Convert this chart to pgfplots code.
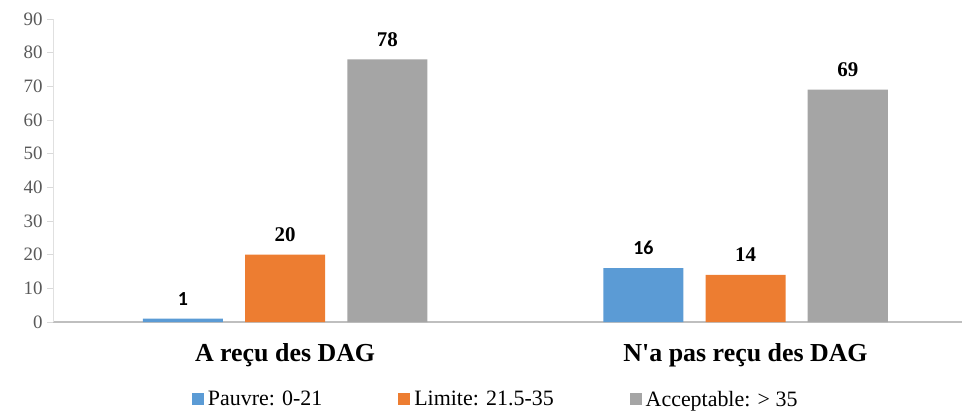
\documentclass[border=0pt]{standalone}
\usepackage{fontspec}
\setmainfont{LiberationSerif}[Extension=.ttf, UprightFont=*-Regular, BoldFont=*-Bold]
\newfontfamily\calibri{Carlito}
\usepackage{pgfplots}
\pgfplotsset{compat=1.18}

\definecolor{cblue}{HTML}{5B9BD5}
\definecolor{corange}{HTML}{ED7D31}
\definecolor{cgrey}{HTML}{A5A5A5}
\definecolor{ticktext}{HTML}{595959}

\begin{document}
\begin{tikzpicture}
\begin{axis}[
    scale only axis,
    width=909bp, height=303bp,
    ybar,
    bar width=0.174,
    xmin=-0.504, xmax=1.47,
    ymin=0, ymax=90,
    ytick={0,10,...,90},
    xtick={0,1},
    xticklabels={A reçu des DAG, N\textquotesingle a pas reçu des DAG},
    axis x line*=bottom,
    axis y line*=left,
    axis line style={-},
    x axis line style={draw=black!25, line width=1.5bp},
    y axis line style={draw=black!12, line width=0.8bp},
    tick align=outside,
    major tick length=6bp,
    xtick style={draw=none},
    ytick style={draw=black!15, line width=0.8bp},
    /pgf/number format/assume math mode=true,
    yticklabel style={font=\rmfamily\fontsize{19}{19}\selectfont, text=ticktext, xshift=-1bp},
    xticklabel style={font=\rmfamily\fontsize{26}{26}\selectfont\bfseries, yshift=-12bp},
    nodes near coords,
    every node near coord/.append style={anchor=south, inner sep=0pt, yshift=13bp, text=black},
    legend style={at={(0.487,-0.255)}, anchor=center, draw=none, legend columns=-1,
        font=\rmfamily\fontsize{22}{22}\selectfont,
        /tikz/every odd column/.append style={column sep=2bp},
        /tikz/every even column/.append style={column sep=74bp}},
    legend image code/.code={\fill[#1] (0bp,-6bp) rectangle (12bp,6bp);},
]
\addplot[fill=cblue, draw=none, bar shift=-0.222,
    nodes near coords style={font=\calibri\bfseries\fontsize{20}{20}\selectfont}]
    coordinates {(0,1) (1,16)};
\addplot[fill=corange, draw=none, bar shift=0,
    nodes near coords style={font=\rmfamily\bfseries\fontsize{21}{21}\selectfont}]
    coordinates {(0,20) (1,14)};
\addplot[fill=cgrey, draw=none, bar shift=0.222,
    nodes near coords style={font=\rmfamily\bfseries\fontsize{21}{21}\selectfont}]
    coordinates {(0,78) (1,69)};
\legend{Pauvre: 0-21, Limite: 21.5-35, Acceptable: > 35}
\end{axis}
\pgfresetboundingbox
\path[use as bounding box] (-53bp,-95bp) rectangle (909bp,322bp);
\end{tikzpicture}
\end{document}
